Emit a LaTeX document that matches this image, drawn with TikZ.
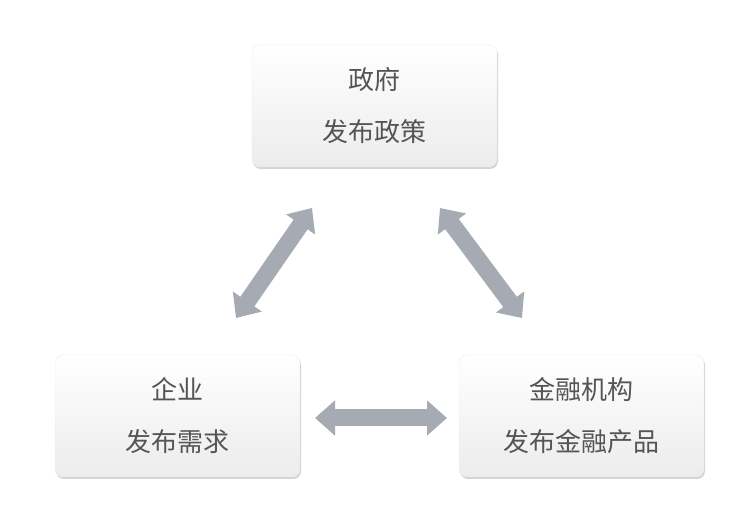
\documentclass[tikz,border=0pt]{standalone}
\usepackage{fontspec}
\setmainfont{Noto Sans CJK SC}
\usetikzlibrary{shadows,arrows.meta}
\definecolor{arrowgray}{HTML}{A6ABB3}
\definecolor{textgray}{HTML}{555555}
\tikzset{
  infobox/.style={rounded corners=8pt, minimum width=245pt, minimum height=122pt,
    top color=white, bottom color=gray!15, draw=gray!15,
    drop shadow={shadow xshift=1pt, shadow yshift=-2pt, opacity=0.35},
    align=center, font=\fontsize{26}{52}\selectfont, text=textgray},
  linkarrow/.style={draw=arrowgray, line width=17pt,
    {Triangle[width=34pt,length=20pt]}-{Triangle[width=34pt,length=20pt]}}
}
\begin{document}
\begin{tikzpicture}[x=1pt,y=-1pt]
    \useasboundingbox (0,0) rectangle (756,518);
    % The three parties
    \node[infobox] (gov) at (374.5,106) {政府\\发布政策};
    \node[infobox] (firm) at (177.5,416) {企业\\发布需求};
    \node[infobox] (bank) at (581.5,416) {金融机构\\发布金融产品};
    % links between them
    \coordinate (gl) at (312,208);
    \coordinate (fl) at (236,318);
    \coordinate (gr) at (440,208);
    \coordinate (br) at (522,318);
    \coordinate (fb) at (315,418);
    \coordinate (bf) at (447,418);
    \draw[linkarrow] (gl) -- (fl);
    \draw[linkarrow] (gr) -- (br);
    \draw[linkarrow] (fb) -- (bf);
\end{tikzpicture}
\end{document}
